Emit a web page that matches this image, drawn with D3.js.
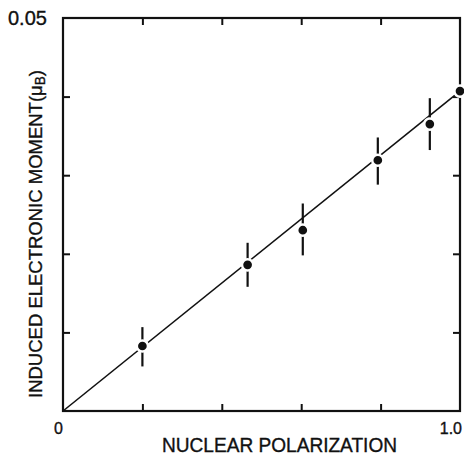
<!DOCTYPE html>
<html>
<head>
<meta charset="utf-8">
<script src="https://cdn.jsdelivr.net/npm/d3@7"></script>
<style>
  body { margin: 0; background: #fff; }
  text { font-family: "Liberation Sans", Arial, sans-serif; fill: #111; stroke: #111; stroke-width: 0.35; }
</style>
</head>
<body>
<svg id="chart" width="464" height="455"></svg>
<script>
// data
var polarization = [0.2, 0.465, 0.604, 0.793, 0.924, 1.0];
var moment = [0.00827, 0.0186, 0.0230, 0.0319, 0.0365, 0.0407];
var errUp = [0.0024, 0.0028, 0.0034, 0.0029, 0.0033, 0.0];
var errDown = [0.0026, 0.0028, 0.0032, 0.0031, 0.0033, 0.0];
var fitX = [0, 1.0];
var fitY = [0, 0.0407];
var xTicks = [0, 0.2, 0.4, 0.6, 0.8, 1.0];
var yTicks = [0, 0.01, 0.02, 0.03, 0.04, 0.05];

var margin = {top: 18, right: 4, bottom: 44, left: 63};
var svg = d3.select("#chart");
var width = 464 - margin.left - margin.right,
    height = 455 - margin.top - margin.bottom;

var g = svg.append("g")
    .attr("transform", "translate(" + margin.left + "," + margin.top + ")");

var x = d3.scaleLinear().domain([0, 1]).range([0, width]);
var y = d3.scaleLinear().domain([0, 0.05]).range([height, 0]);

// ticks inside the frame, on all four sides
var tickLen = 7;
var inner = xTicks.slice(1, -1);
var innerY = yTicks.slice(1, -1);

g.append("g").call(d3.axisBottom(x).tickValues(inner).tickSize(-tickLen).tickFormat(""))
    .attr("transform", "translate(0," + height + ")");
g.append("g").call(d3.axisTop(x).tickValues(inner).tickSize(-tickLen).tickFormat(""));
g.append("g").call(d3.axisLeft(y).tickValues(innerY).tickSize(-tickLen).tickFormat(""));
g.append("g").call(d3.axisRight(y).tickValues(innerY).tickSize(-tickLen).tickFormat(""))
    .attr("transform", "translate(" + width + ",0)");
g.selectAll(".domain").remove();
g.selectAll(".tick line").attr("stroke", "#111").attr("stroke-width", 2);

// frame
g.append("rect")
    .attr("x", 0).attr("y", 0)
    .attr("width", width).attr("height", height)
    .attr("fill", "none")
    .attr("stroke", "#111")
    .attr("stroke-width", 2.2);

// fitted line
var line = d3.line()
    .x(function (d) { return x(d[0]); })
    .y(function (d) { return y(d[1]); });
g.append("path")
    .datum(fitX.map(function (v, i) { return [v, fitY[i]]; }))
    .attr("d", line)
    .attr("fill", "none")
    .attr("stroke", "#111")
    .attr("stroke-width", 1.6);

var pts = polarization.map(function (v, i) {
    return {x: v, y: moment[i], up: errUp[i], down: errDown[i]};
});

// error bars
g.selectAll(".err")
    .data(pts)
    .enter().append("line")
    .attr("class", "err")
    .attr("x1", function (d) { return x(d.x); })
    .attr("x2", function (d) { return x(d.x); })
    .attr("y1", function (d) { return y(d.y + d.up); })
    .attr("y2", function (d) { return y(d.y - d.down); })
    .attr("stroke", "#111")
    .attr("stroke-width", 2.2);

// dots with a white halo, like the gaps in the print
g.selectAll(".dot")
    .data(pts)
    .enter().append("circle")
    .attr("class", "dot")
    .attr("cx", function (d) { return x(d.x); })
    .attr("cy", function (d) { return y(d.y); })
    .attr("r", 5.6)
    .attr("fill", "#111")
    .attr("stroke", "#fff")
    .attr("stroke-width", 2.5);

// tick labels
svg.append("text")
    .attr("x", 8).attr("y", 25)
    .style("font-size", "20px")
    .text(d3.format(".2f")(yTicks[yTicks.length - 1]));
svg.append("text")
    .attr("x", 54).attr("y", 434)
    .style("font-size", "16px")
    .text(xTicks[0]);
svg.append("text")
    .attr("x", 462).attr("y", 434)
    .attr("text-anchor", "end")
    .style("font-size", "16px")
    .text(d3.format(".1f")(xTicks[xTicks.length - 1]));

// axis titles
svg.append("text")
    .attr("x", 162).attr("y", 452)
    .attr("textLength", 235)
    .attr("lengthAdjust", "spacingAndGlyphs")
    .style("font-size", "20px")
    .text("NUCLEAR  POLARIZATION");

var yl = svg.append("text")
    .attr("transform", "translate(42,398) rotate(-90)")
    .attr("textLength", 328)
    .attr("lengthAdjust", "spacingAndGlyphs")
    .style("font-size", "19px");
yl.append("tspan").text("INDUCED ELECTRONIC MOMENT(μ");
yl.append("tspan").attr("dy", 3).style("font-size", "14px").text("B");
yl.append("tspan").attr("dy", -3).text(")");
</script>
</body>
</html>
